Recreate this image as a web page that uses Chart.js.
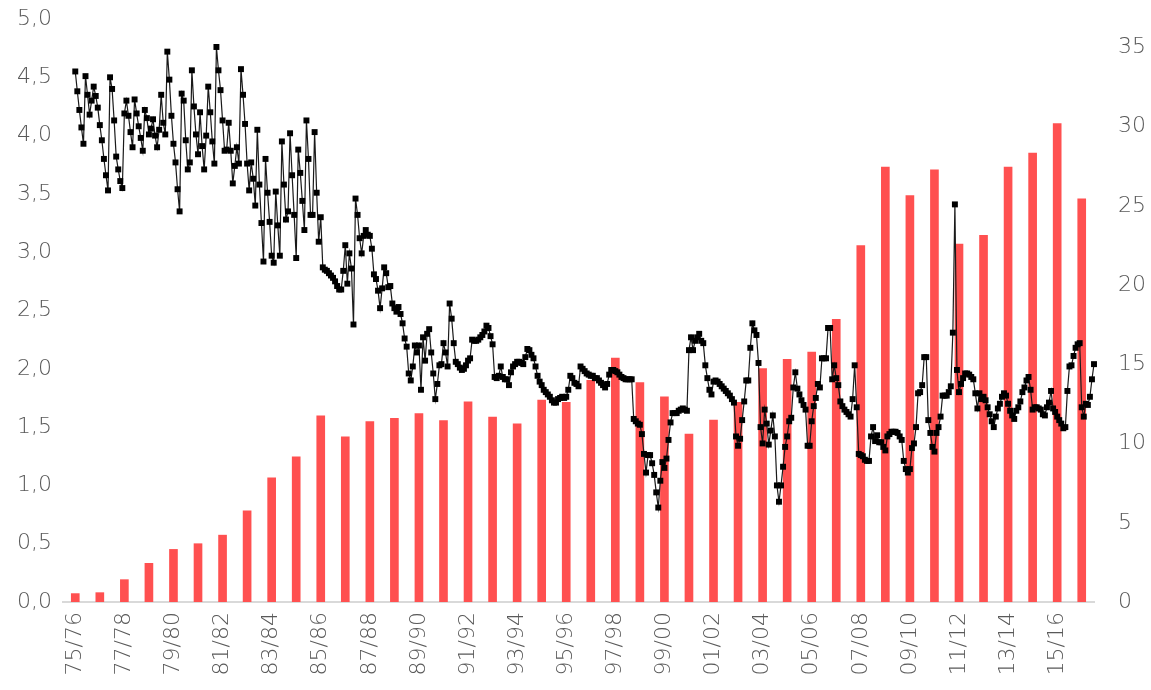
<!DOCTYPE html>
<html>
<head>
<meta charset="utf-8">
<script src="https://cdn.jsdelivr.net/npm/chart.js@4/dist/chart.umd.min.js"></script>
<style>
  html, body { margin: 0; padding: 0; background: #fff; }
  #wrap { width: 1151px; height: 690px; }
</style>
</head>
<body>
<div id="wrap"><canvas id="chart" width="1151" height="690"></canvas></div>
<script>
// seasons on the x axis (one bar each)
const seasons = [
  "75/76", "76/77", "77/78", "78/79", "79/80", "80/81", "81/82", "82/83", "83/84", "84/85",
  "85/86", "86/87", "87/88", "88/89", "89/90", "90/91", "91/92", "92/93", "93/94", "94/95",
  "95/96", "96/97", "97/98", "98/99", "99/00", "00/01", "01/02", "02/03", "03/04", "04/05",
  "05/06", "06/07", "07/08", "08/09", "09/10", "10/11", "11/12", "12/13", "13/14", "14/15",
  "15/16", "16/17"
];

// red bars, right axis
const seasonBars = [
  0.53, 0.59, 1.41, 2.44, 3.32, 3.68, 4.22, 5.76, 7.84, 9.16,
  11.75, 10.42, 11.39, 11.6, 11.9, 11.45, 12.63, 11.68, 11.24, 12.74,
  12.6, 14.0, 15.4, 13.85, 12.95, 10.6, 11.48, 12.61, 14.73, 15.32,
  15.78, 17.84, 22.5, 27.45, 25.66, 27.28, 22.6, 23.14, 27.45, 28.33,
  30.2, 25.45
];

// black line, left axis, one value per month starting at 75/76
const monthly = [
  4.55, 4.38, 4.22, 4.07, 3.93, 4.51, 4.35, 4.18, 4.30, 4.42,
  4.34, 4.24, 4.09, 3.96, 3.80, 3.66, 3.53, 4.50, 4.40, 4.13,
  3.82, 3.71, 3.61, 3.55, 4.19, 4.30, 4.17, 4.03, 3.90, 4.31,
  4.19, 4.08, 3.98, 3.87, 4.22, 4.15, 4.01, 4.06, 4.14, 4.00,
  3.90, 4.05, 4.35, 4.11, 4.01, 4.72, 4.48, 4.17, 3.93, 3.77,
  3.54, 3.35, 4.36, 4.30, 3.96, 3.71, 3.77, 4.56, 4.25, 4.01,
  3.84, 4.20, 3.91, 3.71, 4.00, 4.42, 4.20, 3.95, 3.76, 4.76,
  4.56, 4.39, 4.13,
  3.87, 3.88, 4.11, 3.87, 3.59, 3.74, 3.90, 3.76, 4.57, 4.35,
  4.10, 3.76, 3.53, 3.77, 3.63, 3.40, 4.05, 3.58, 3.25, 2.92,
  3.80, 3.51, 3.26, 2.97, 2.91, 3.52, 3.23, 2.97, 3.95, 3.58,
  3.28, 3.35, 4.02, 3.66, 3.32, 2.95, 3.88, 3.68, 3.44, 3.19,
  4.13, 3.80, 3.32, 3.32, 4.03, 3.51, 3.09, 3.30, 2.87, 2.85,
  2.84, 2.82, 2.80, 2.78, 2.75, 2.71, 2.68, 2.68, 2.84, 3.06,
  2.73, 2.99, 2.86, 2.38, 3.46, 3.32, 3.12, 2.99, 3.14, 3.19,
  3.15, 3.14, 3.03, 2.81, 2.77, 2.67, 2.52,
  2.69, 2.87, 2.82, 2.70, 2.71, 2.56, 2.52, 2.49, 2.53, 2.47,
  2.39, 2.26, 2.19, 1.96, 1.90, 2.02, 2.20, 2.14, 2.20, 1.82,
  2.27, 2.07, 2.30, 2.34, 2.14, 1.96, 1.74, 1.87, 2.03, 2.04,
  2.22, 2.14, 2.02,
  2.56, 2.43, 2.22, 2.06, 2.04, 2.01, 1.99, 2.00, 2.03, 2.07,
  2.09, 2.25, 2.24, 2.24, 2.25, 2.27, 2.29, 2.32, 2.37, 2.35,
  2.28, 2.21, 1.93, 1.92, 1.94, 2.02, 1.93, 1.91, 1.91, 1.86,
  1.97, 2.02, 2.04, 2.06, 2.06, 2.05, 2.04, 2.10, 2.17, 2.16,
  2.12, 2.09, 2.02, 1.94, 1.89, 1.86, 1.82, 1.80, 1.78, 1.76,
  1.73, 1.71, 1.71, 1.74, 1.75, 1.76, 1.75, 1.76, 1.82, 1.94,
  1.92, 1.88, 1.87, 1.85, 2.02, 2.00, 1.98, 1.96, 1.95, 1.94,
  1.94, 1.92, 1.92, 1.90, 1.88, 1.86, 1.84, 1.87, 1.95, 1.99,
  1.99, 1.98, 1.97, 1.95, 1.93, 1.92, 1.91, 1.91, 1.91, 1.91,
  1.57, 1.55, 1.53, 1.52, 1.44, 1.27, 1.11, 1.26, 1.26, 1.19,
  1.09, 0.94, 0.81, 1.04, 1.20, 1.15, 1.23, 1.39, 1.54, 1.62,
  1.62, 1.62, 1.64, 1.65, 1.66, 1.65, 1.64, 2.16, 2.27, 2.16,
  2.24, 2.27, 2.30, 2.24, 2.22, 2.03, 1.92, 1.82, 1.78, 1.89,
  1.90, 1.89, 1.87, 1.85, 1.83, 1.81, 1.79, 1.77, 1.74, 1.71,
  1.42, 1.34, 1.40, 1.56, 1.72, 1.90, 1.90, 2.18, 2.39, 2.33,
  2.29, 2.05, 1.50, 1.36, 1.65, 1.53, 1.35, 1.47, 1.60, 1.42,
  1.00, 0.86, 1.00, 1.16, 1.33, 1.42, 1.55, 1.58, 1.84, 1.97,
  1.83, 1.78, 1.73, 1.69, 1.65, 1.34, 1.34, 1.55, 1.68, 1.75,
  1.87, 1.84, 2.09, 2.09, 2.09, 2.35, 2.35, 1.91, 2.03, 1.92,
  1.86, 1.72, 1.68, 1.65, 1.63, 1.61, 1.59, 1.74, 2.03, 1.67,
  1.27, 1.26, 1.25, 1.22, 1.21, 1.21, 1.42, 1.50, 1.38, 1.43,
  1.37, 1.37, 1.33, 1.30, 1.42, 1.44, 1.46, 1.46, 1.46, 1.45,
  1.42, 1.39, 1.21, 1.14, 1.11, 1.14, 1.32, 1.36, 1.50, 1.79,
  1.80, 1.86, 2.10, 2.10, 1.56, 1.45, 1.33, 1.29, 1.45, 1.50,
  1.59, 1.77, 1.77, 1.77, 1.80, 1.85, 2.31, 3.41, 1.99, 1.80,
  1.87, 1.92, 1.96, 1.96, 1.95, 1.93, 1.91, 1.79, 1.66, 1.79,
  1.74, 1.76, 1.73, 1.67, 1.61, 1.55, 1.50, 1.59, 1.66, 1.70,
  1.76, 1.79, 1.77, 1.70, 1.64, 1.60, 1.57, 1.64, 1.67, 1.72,
  1.80, 1.84, 1.90, 1.93, 1.82, 1.65, 1.67, 1.67, 1.66, 1.65,
  1.61, 1.60, 1.67, 1.71, 1.81, 1.66, 1.63, 1.59, 1.56, 1.53,
  1.49, 1.50, 1.81, 2.02, 2.03, 2.11, 2.18, 2.21, 2.22, 1.67,
  1.59, 1.70, 1.69, 1.76, 1.91, 2.04, 2.11, 2.08, 2.05, 1.91
];

const leftMax = 5;
const rightMax = 36.8;   // right axis reaches a bit above 35
const rightStep = 5;
const labelEvery = 2;    // only every other season is written under the axis

const tickFont = { family: "'DejaVu Sans', 'Noto Sans', sans-serif", size: 22, weight: "200" };
const tickColor = "#595959";

// seasons and months share one linear x scale: season i sits at i, month m at m/12
const barPoints = seasonBars.map((v, i) => ({ x: i, y: v }));
const linePoints = monthly.map((v, i) => ({ x: i / 12, y: v }));

// keep the tick-label paddings from pushing the plot area around
const noPad = (s) => { s.paddingTop = 0; s.paddingBottom = 0; s.paddingLeft = 0; s.paddingRight = 0; };

new Chart(document.getElementById("chart"), {
  type: "bar",
  data: {
    datasets: [
      {
        type: "line",
        data: linePoints,
        yAxisID: "y",
        borderColor: "#1a1a1a",
        borderWidth: 1.2,
        pointStyle: "rect",
        pointRadius: 4.2,
        pointBackgroundColor: "#000",
        pointBorderWidth: 0,
        tension: 0,
        clip: false,
        order: 0
      },
      {
        type: "bar",
        data: barPoints,
        yAxisID: "y1",
        backgroundColor: "#ff5050",
        barThickness: 8,
        grouped: false,
        order: 1
      }
    ]
  },
  options: {
    responsive: false,
    animation: false,
    devicePixelRatio: 1,
    layout: { padding: { top: 19, left: 0, right: 0, bottom: 0 }, autoPadding: false },
    plugins: { legend: { display: false }, tooltip: { enabled: false } },
    scales: {
      x: {
        type: "linear",
        offset: false,
        min: -0.5,
        max: seasons.length - 0.5,
        grid: { display: false, drawTicks: false },
        border: { display: true, color: "#d9d9d9", width: 2 },
        ticks: {
          autoSkip: false,
          maxRotation: 90,
          minRotation: 90,
          padding: 10,
          color: tickColor,
          font: tickFont,
          callback: (v) => seasons[v] || ""
        },
        afterBuildTicks: (s) => {
          s.ticks = seasons.map((_, i) => ({ value: i })).filter((t) => t.value % labelEvery === 0);
        },
        afterFit: (s) => { s.height = 88; noPad(s); }
      },
      y: {
        position: "left",
        min: 0,
        max: leftMax,
        grid: { display: false, drawTicks: false },
        border: { display: false },
        ticks: {
          stepSize: 0.5,
          padding: 11,
          color: tickColor,
          font: tickFont,
          callback: (v) => v.toFixed(1).replace(".", ",")
        },
        afterFit: (s) => { s.width = 63; noPad(s); }
      },
      y1: {
        position: "right",
        min: 0,
        max: rightMax,
        grid: { display: false, drawTicks: false },
        border: { display: false },
        ticks: {
          stepSize: rightStep,
          padding: 24,
          color: tickColor,
          font: tickFont
        },
        afterBuildTicks: (s) => {
          s.ticks = s.ticks.filter((t) => t.value % rightStep === 0);
        },
        afterFit: (s) => { s.width = 57; noPad(s); }
      }
    }
  }
});
</script>
</body>
</html>
